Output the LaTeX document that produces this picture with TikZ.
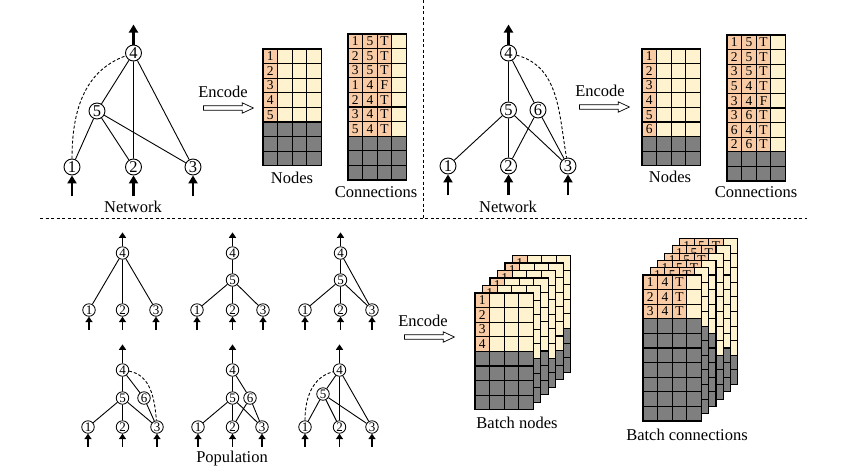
\documentclass[tikz,border=0pt]{standalone}
\usepackage{fontspec}
\setmainfont{Liberation Serif}
\usepackage{xcolor}
\usepackage{tikz}
\usetikzlibrary{arrows.meta, positioning, shapes.arrows}
\definecolor{CellOrange}{RGB}{248,203,165}
\definecolor{CellCream}{RGB}{255,242,206}
\definecolor{CellGray}{RGB}{127,127,127}

\newcommand{\cellw}{14.6}
% table of nodes: name, top-left, rows, filled rows, labelled rows
\newcommand{\nodetable}[5]{%
  \begin{scope}[shift={#2}]
    \fill[CellGray] (0,0) rectangle (4*\cellw,-#3*\cellw);
    \fill[CellCream] (0,0) rectangle (4*\cellw,-#4*\cellw);
    \fill[CellOrange] (0,0) rectangle (\cellw,-#4*\cellw);
    \foreach \r in {1,...,#3} \draw[gridline] (0,-\r*\cellw) -- (4*\cellw,-\r*\cellw);
    \foreach \k in {1,2,3} \draw[gridline] (\k*\cellw,0) -- (\k*\cellw,-#3*\cellw);
    \draw[gridline] (0,0) rectangle (4*\cellw,-#3*\cellw);
    \foreach \r in {1,...,#5} \node[celltext] (#1-\r) at (0.5*\cellw,{-(\r-0.5)*\cellw}) {\r};
  \end{scope}}
% table of connections: name, top-left, rows, filled rows, entries
\newcommand{\conntable}[5]{%
  \begin{scope}[shift={#2}]
    \fill[CellGray] (0,0) rectangle (4*\cellw,-#3*\cellw);
    \fill[CellCream] (0,0) rectangle (4*\cellw,-#4*\cellw);
    \fill[CellOrange] (0,0) rectangle (3*\cellw,-#4*\cellw);
    \foreach \r in {1,...,#3} \draw[gridline] (0,-\r*\cellw) -- (4*\cellw,-\r*\cellw);
    \foreach \k in {1,2,3} \draw[gridline] (\k*\cellw,0) -- (\k*\cellw,-#3*\cellw);
    \draw[gridline] (0,0) rectangle (4*\cellw,-#3*\cellw);
    \foreach \src/\dst/\ena [count=\r] in {#5} {
      \node[celltext] (#1-\r-s) at (0.5*\cellw,{-(\r-0.5)*\cellw}) {\src};
      \node[celltext] (#1-\r-d) at (1.5*\cellw,{-(\r-0.5)*\cellw}) {\dst};
      \node[celltext] (#1-\r-e) at (2.5*\cellw,{-(\r-0.5)*\cellw}) {\ena};
    }
  \end{scope}}

\tikzset{
  neuron/.style={circle, draw, fill=white, line width=0.9pt, inner sep=0pt, minimum size=16pt, font=\fontsize{16.5}{16.5}\selectfont},
  smallneuron/.style={neuron, minimum size=12.5pt, line width=0.8pt, font=\fontsize{13}{13}\selectfont},
  link/.style={line width=0.9pt},
  offlink/.style={link, dash pattern=on 3pt off 2pt},
  ioarrow/.style={line width=2.4pt, -{Triangle[length=8pt,width=9pt]}},
  smallio/.style={line width=1.8pt, -{Triangle[length=5.5pt,width=7pt]}},
  encarrow/.style={single arrow, draw, fill=white, line width=0.7pt, inner sep=1.9pt, minimum height=50pt, single arrow head extend=3pt, single arrow tip angle=50, font=\tiny},
  lbl/.style={font=\fontsize{16.5}{18}\selectfont},
  celltext/.style={font=\fontsize{13.5}{13.5}\selectfont, inner sep=0pt},
  gridline/.style={line width=1.1pt},
  divider/.style={line width=0.8pt, dash pattern=on 3pt off 2.5pt},
}

\begin{document}
\begin{tikzpicture}[x=1pt,y=1pt]
  \path[use as bounding box] (0,0) rectangle (849,-475);
  \draw[divider] (40,-218.5) -- (807,-218.5);
  \draw[divider] (423.5,0) -- (423.5,-218.5);

  % network, top left
  \node[neuron] (a4) at (133.5,-53) {4};
  \node[neuron] (a5) at (97,-111) {5};
  \node[neuron] (a1) at (72,-167) {1};
  \node[neuron] (a2) at (133.5,-167) {2};
  \node[neuron] (a3) at (193,-167) {3};
  \draw[link] (a4) -- (a5) (a4) -- (a2) (a4) -- (a3) (a5) -- (a1) (a5) -- (a2) (a5) -- (a3);
  \draw[offlink] (a1) to[out=90,in=200] (a4);
  \coordinate[above=20pt of a4] (ao);
  \draw[ioarrow] (a4) -- (ao);
  \foreach \n in {1,2,3} {
    \coordinate[below=21pt of a\n] (ai\n);
    \draw[ioarrow] (ai\n) -- (a\n);
  }
  \node[lbl] (anet) at (133,-207) {Network};

  \node[encarrow] (enc1) at (226,-108) {};
  \node[lbl] (enct1) at (223,-92) {Encode};
  \nodetable{nt1}{(263,-49)}{8}{5}{5}
  \conntable{ct1}{(348,-34)}{10}{7}{1/5/T,2/5/T,3/5/T,1/4/F,2/4/T,3/4/T,5/4/T}
  \node[lbl] (ntl1) at (292,-178) {Nodes};
  \node[lbl] (ctl1) at (376,-192) {Connections};

  % network, top right
  \node[neuron] (b4) at (508.5,-53) {4};
  \node[neuron] (b5) at (508.5,-110) {5};
  \node[neuron] (b6) at (538,-110) {6};
  \node[neuron] (b1) at (448,-166) {1};
  \node[neuron] (b2) at (508.5,-166) {2};
  \node[neuron] (b3) at (568,-166) {3};
  \draw[link] (b4) -- (b5) (b4) -- (b6) (b5) -- (b1) (b5) -- (b2) (b5) -- (b3) (b6) -- (b2) (b6) -- (b3);
  \draw[offlink] (b4) to[out=-15,in=100] (b3);
  \coordinate[above=20pt of b4] (bo);
  \draw[ioarrow] (b4) -- (bo);
  \foreach \n in {1,2,3} {
    \coordinate[below=21pt of b\n] (bi\n);
    \draw[ioarrow] (bi\n) -- (b\n);
  }
  \node[lbl] (bnet) at (508,-207) {Network};

  \node[encarrow] (enc2) at (602,-107) {};
  \node[lbl] (enct2) at (600,-91) {Encode};
  \nodetable{nt2}{(642,-49)}{8}{6}{6}
  \conntable{ct2}{(727,-35)}{10}{8}{1/5/T,2/5/T,3/5/T,5/4/T,3/4/F,3/6/T,6/4/T,2/6/T}
  \node[lbl] (ntl2) at (670,-177) {Nodes};
  \node[lbl] (ctl2) at (756,-192) {Connections};

  % population
  \node[smallneuron] (p1-4) at (122.5,-253) {4};
  \node[smallneuron] (p1-1) at (89,-310) {1};
  \node[smallneuron] (p1-2) at (122.5,-310) {2};
  \node[smallneuron] (p1-3) at (156,-310) {3};
  \draw[link] (p1-4) -- (p1-1) (p1-4) -- (p1-2) (p1-4) -- (p1-3);

  \node[smallneuron] (p2-4) at (232.5,-253) {4};
  \node[smallneuron] (p2-5) at (232.5,-280) {5};
  \node[smallneuron] (p2-1) at (197,-310) {1};
  \node[smallneuron] (p2-2) at (232.5,-310) {2};
  \node[smallneuron] (p2-3) at (263,-310) {3};
  \draw[link] (p2-4) -- (p2-5) (p2-5) -- (p2-1) (p2-5) -- (p2-2) (p2-5) -- (p2-3);

  \node[smallneuron] (p3-4) at (340.5,-253) {4};
  \node[smallneuron] (p3-5) at (340.5,-280) {5};
  \node[smallneuron] (p3-1) at (305,-310) {1};
  \node[smallneuron] (p3-2) at (340.5,-310) {2};
  \node[smallneuron] (p3-3) at (372,-310) {3};
  \draw[link] (p3-4) -- (p3-5) (p3-4) -- (p3-3) (p3-5) -- (p3-1) (p3-5) -- (p3-2) (p3-5) -- (p3-3);

  \node[smallneuron] (p4-4) at (122.5,-370) {4};
  \node[smallneuron] (p4-5) at (122.5,-398) {5};
  \node[smallneuron] (p4-6) at (144,-398) {6};
  \node[smallneuron] (p4-1) at (88,-427) {1};
  \node[smallneuron] (p4-2) at (122.5,-427) {2};
  \node[smallneuron] (p4-3) at (157,-427) {3};
  \draw[link] (p4-4) -- (p4-5) (p4-4) -- (p4-6) (p4-5) -- (p4-1) (p4-5) -- (p4-2) (p4-5) -- (p4-3) (p4-6) -- (p4-3);
  \draw[offlink] (p4-4) to[out=-10,in=95] (p4-3);

  \node[smallneuron] (p5-4) at (232.5,-370) {4};
  \node[smallneuron] (p5-5) at (232.5,-398) {5};
  \node[smallneuron] (p5-6) at (250,-398) {6};
  \node[smallneuron] (p5-1) at (198,-427) {1};
  \node[smallneuron] (p5-2) at (232.5,-427) {2};
  \node[smallneuron] (p5-3) at (262,-427) {3};
  \draw[link] (p5-4) -- (p5-5) (p5-4) -- (p5-6) (p5-5) -- (p5-1) (p5-5) -- (p5-2) (p5-5) -- (p5-3) (p5-6) -- (p5-2) (p5-6) -- (p5-3);

  \node[smallneuron] (p6-4) at (339.5,-370) {4};
  \node[smallneuron] (p6-5) at (323,-394) {5};
  \node[smallneuron] (p6-1) at (305,-427) {1};
  \node[smallneuron] (p6-2) at (339.5,-427) {2};
  \node[smallneuron] (p6-3) at (372,-427) {3};
  \draw[link] (p6-4) -- (p6-5) (p6-4) -- (p6-2) (p6-4) -- (p6-3) (p6-5) -- (p6-1) (p6-5) -- (p6-2) (p6-5) -- (p6-3);
  \draw[offlink] (p6-1) to[out=90,in=195] (p6-4);

  \foreach \p in {1,2,3} {
    \coordinate[above=14pt of p\p-4] (p\p-o);
    \draw[smallio] (p\p-4) -- (p\p-o);
  }
  \foreach \p in {4,5,6} {
    \coordinate[above=19pt of p\p-4] (p\p-o);
    \draw[smallio] (p\p-4) -- (p\p-o);
  }
  \foreach \p in {1,...,6}
    \foreach \n in {1,2,3} {
      \coordinate[below=13pt of p\p-\n] (p\p-i\n);
      \draw[smallio] (p\p-i\n) -- (p\p-\n);
    }
  \node[lbl] (poplbl) at (232,-459) {Population};

  \node[encarrow] (enc3) at (427,-337) {};
  \node[lbl] (enct3) at (423,-321) {Encode};

  % batch of node tables
  \nodetable{bn5}{(512.5,-255.5)}{8}{5}{1}
  \nodetable{bn4}{(505,-263)}{8}{6}{1}
  \nodetable{bn3}{(497.5,-270.5)}{8}{6}{1}
  \nodetable{bn2}{(490,-278)}{8}{5}{1}
  \nodetable{bn1}{(482.5,-285.5)}{8}{5}{1}
  \nodetable{bn0}{(475,-293)}{8}{4}{4}
  \node[lbl] (bnl) at (517,-423) {Batch nodes};

  % batch of connection tables
  \conntable{bc5}{(679.5,-238.5)}{10}{8}{1/5/T}
  \conntable{bc4}{(672.2,-245.8)}{10}{7}{1/5/T}
  \conntable{bc3}{(664.9,-253.1)}{10}{7}{1/5/T}
  \conntable{bc2}{(657.6,-260.4)}{10}{5}{1/5/T}
  \conntable{bc1}{(650.3,-267.7)}{10}{4}{1/5/T}
  \conntable{bc0}{(643,-275)}{10}{3}{1/4/T,2/4/T,3/4/T}
  \node[lbl] (bcl) at (687,-435) {Batch connections};
\end{tikzpicture}
\end{document}
